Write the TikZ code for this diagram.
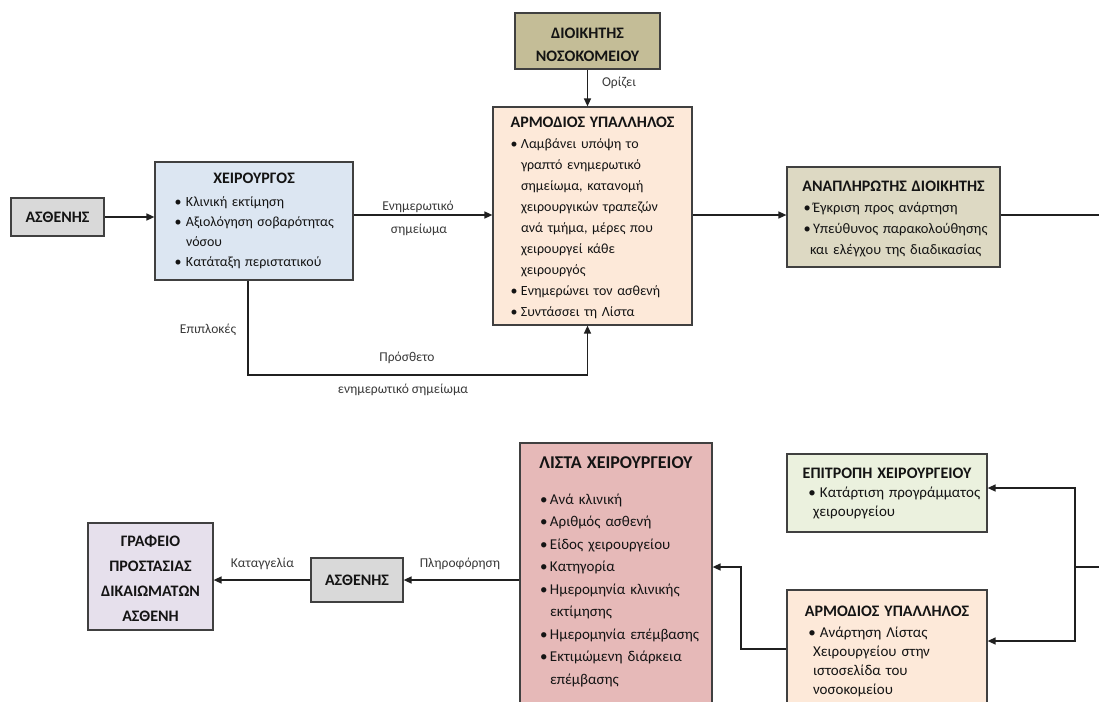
\documentclass[tikz,border=0pt]{standalone}
\usepackage{fontspec}
\setmainfont{Carlito}
\usetikzlibrary{arrows.meta}
\definecolor{gryc}{HTML}{D9D9D9}
\definecolor{surc}{HTML}{DCE6F2}
\definecolor{dirc}{HTML}{C4BD97}
\definecolor{armc}{HTML}{FDE9D9}
\definecolor{anac}{HTML}{DDD9C3}
\definecolor{listc}{HTML}{E6B9B8}
\definecolor{epic}{HTML}{EBF1DE}
\definecolor{grac}{HTML}{E6E0EC}
\definecolor{bordc}{HTML}{404040}
\definecolor{linec}{HTML}{202020}
\definecolor{txtc}{HTML}{141414}
\definecolor{lblc}{HTML}{3A3A3A}
\newlength{\bpos}\newlength{\bwid}\newlength{\bhang}
\newcommand{\bset}[3]{\setlength{\bpos}{#1}\setlength{\bwid}{#2}\setlength{\bhang}{#3}}
\newcommand{\titf}{\fontsize{16}{20}\selectfont\bfseries}
\newcommand{\btitle}[2][0pt]{{\centering\titf #2\par}\vspace{#1}}
\newcommand{\bitem}[1]{\par\hangindent=\bhang\hangafter=1\noindent\hspace*{\bpos}\makebox[\bwid][l]{•}#1\par}
\begin{document}
\begin{tikzpicture}[x=1pt,y=-1pt,
  boxs/.style={draw=bordc, line width=1.2pt, inner sep=0pt},
  txt/.style={inner sep=0pt, align=left, text=txtc, anchor=base},
  ctxt/.style={inner sep=0pt, align=center, text=txtc, anchor=base},
  tbox/.style={boxs, text=txtc, font=\titf},
  lbl/.style={font=\fontsize{13.5}{16}\selectfont, text=lblc, inner sep=1pt},
  arr/.style={draw=linec, line width=1.4pt, -{Triangle[length=8pt,width=7pt]}},
  ln/.style={draw=linec, line width=1.4pt}]
\useasboundingbox (0,0) rectangle (1099,701);
\fill[white] (0,0) rectangle (1099,701);

% ---------- top row ----------
\node[tbox, fill=gryc, minimum width=93, minimum height=38] (p1) at (57.5,217) {ΑΣΘΕΝΗΣ};

\node[boxs, fill=surc, minimum width=198, minimum height=118] (sur) at (254,221) {};
\node[txt, text width=198, font=\fontsize{14}{20.3}\selectfont] (surt) at (254,183)
 {\bset{19.5pt}{11.5pt}{31pt}\btitle[2.7pt]{ΧΕΙΡΟΥΡΓΟΣ}\bitem{Κλινική εκτίμηση}\bitem{Αξιολόγηση σοβαρότητας\newline νόσου}\bitem{Κατάταξη περιστατικού}};

\node[boxs, fill=dirc, minimum width=145, minimum height=56] (dir) at (587.5,41) {};
\node[ctxt, text width=145, font=\fontsize{16}{24}\selectfont\bfseries] (dirt) at (587.5,38) {ΔΙΟΙΚΗΤΗΣ\\ΝΟΣΟΚΟΜΕΙΟΥ};

\node[boxs, fill=armc, minimum width=199, minimum height=218] (arm) at (592.5,216) {};
\node[txt, text width=199, font=\fontsize{14}{21}\selectfont] (armt) at (592.5,127)
 {\bset{17.5pt}{10.5pt}{28pt}\btitle{ΑΡΜΟΔΙΟΣ ΥΠΑΛΛΗΛΟΣ}\bitem{Λαμβάνει υπόψη το\newline γραπτό ενημερωτικό\newline σημείωμα, κατανομή\newline χειρουργικών τραπεζών\newline ανά τμήμα, μέρες που\newline χειρουργεί κάθε\newline χειρουργός}\bitem{Ενημερώνει τον ασθενή}\bitem{Συντάσσει τη Λίστα}};

\node[boxs, fill=anac, minimum width=213, minimum height=100] (ana) at (893.5,217) {};
\node[txt, text width=213, font=\fontsize{14.5}{21}\selectfont] (anat) at (893.5,191)
 {\bset{16.5pt}{9.5pt}{23pt}\btitle{ΑΝΑΠΛΗΡΩΤΗΣ ΔΙΟΙΚΗΤΗΣ}\bitem{Έγκριση προς ανάρτηση}\bitem{Υπεύθυνος παρακολούθησης\newline και ελέγχου της διαδικασίας}};

\coordinate (rt) at (1099,215);
\coordinate (fb) at (248,375);

\draw[arr] (p1.east) -- (p1.east -| sur.west);
\draw[arr] (sur.east |- rt) -- (arm.west |- rt);
\draw[arr] (arm.east |- rt) -- (ana.west |- rt);
\draw[ln] (ana.east |- rt) -- (rt);
\draw[arr] (dir.south) -- (dir.south |- arm.north);
\draw[arr] (sur.south -| fb) -- (fb) -- (fb -| dir.south) -- (dir.south |- arm.south);

\node[lbl] (l1) at (418,207) {Ενημερωτικό};
\node[lbl] (l2) at (419,230) {σημείωμα};
\node[lbl] (l3) at (619,83) {Ορίζει};
\node[lbl] (l4) at (208,330) {Επιπλοκές};
\node[lbl] (l5) at (407,358) {Πρόσθετο};
\node[lbl] (l6) at (403,390) {ενημερωτικό σημείωμα};

% ---------- bottom row ----------
\node[boxs, fill=grac, minimum width=125, minimum height=107] (gra) at (150.5,576.5) {};
\node[ctxt, text width=125, font=\fontsize{16}{25}\selectfont\bfseries] (grat) at (150.5,546) {ΓΡΑΦΕΙΟ\\ΠΡΟΣΤΑΣΙΑΣ\\ΔΙΚΑΙΩΜΑΤΩΝ\\ΑΣΘΕΝΗ};

\node[tbox, fill=gryc, minimum width=92, minimum height=44] (p2) at (357,580) {ΑΣΘΕΝΗΣ};

\node[boxs, fill=listc, minimum width=192, minimum height=277] (lista) at (616,581.5) {};
\node[txt, text width=192, font=\fontsize{15}{22.5}\selectfont] (listat) at (616,468.8)
 {\bset{20pt}{10pt}{30pt}\btitle[12.9pt]{\fontsize{18}{20}\selectfont ΛΙΣΤΑ ΧΕΙΡΟΥΡΓΕΙΟΥ}\bitem{Ανά κλινική}\bitem{Αριθμός ασθενή}\bitem{Είδος χειρουργείου}\bitem{Κατηγορία}\bitem{Ημερομηνία κλινικής\newline εκτίμησης}\bitem{Ημερομηνία επέμβασης}\bitem{Εκτιμώμενη διάρκεια\newline επέμβασης}};

\node[boxs, fill=epic, minimum width=200, minimum height=78] (epi) at (887,493) {};
\node[txt, text width=200, font=\fontsize{15}{19.4}\selectfont] (epit) at (887,478)
 {\bset{21.3pt}{11.7pt}{26pt}\btitle{ΕΠΙΤΡΟΠΗ ΧΕΙΡΟΥΡΓΕΙΟΥ}\bitem{Κατάρτιση προγράμματος\newline χειρουργείου}};

\node[boxs, fill=armc, minimum width=200, minimum height=130] (arm2) at (887,655) {};
\node[txt, text width=200, font=\fontsize{15}{19}\selectfont] (arm2t) at (887,616)
 {\bset{21.3pt}{11.7pt}{26pt}\btitle[2.2pt]{ΑΡΜΟΔΙΟΣ ΥΠΑΛΛΗΛΟΣ}\bitem{Ανάρτηση Λίστας\newline Χειρουργείου στην\newline ιστοσελίδα του\newline νοσοκομείου}};

\coordinate (bj) at (741,567);
\coordinate (br) at (1075,567);
\coordinate (re) at (1099,567);

\draw[arr] (p2.west) -- (p2.west -| gra.east);
\draw[arr] (p2.east -| lista.west) -- (p2.east);
\draw[arr] (arm2.west |- 0,649) -| (bj) -- (bj -| lista.east);
\draw[ln] (re) -- (br);
\draw[arr] (br) |- (epi.east |- 0,488);
\draw[arr] (br) |- (arm2.east |- 0,641);

\node[lbl] (l7) at (262.5,564) {Καταγγελία};
\node[lbl] (l8) at (460,564) {Πληροφόρηση};
\end{tikzpicture}
\end{document}
